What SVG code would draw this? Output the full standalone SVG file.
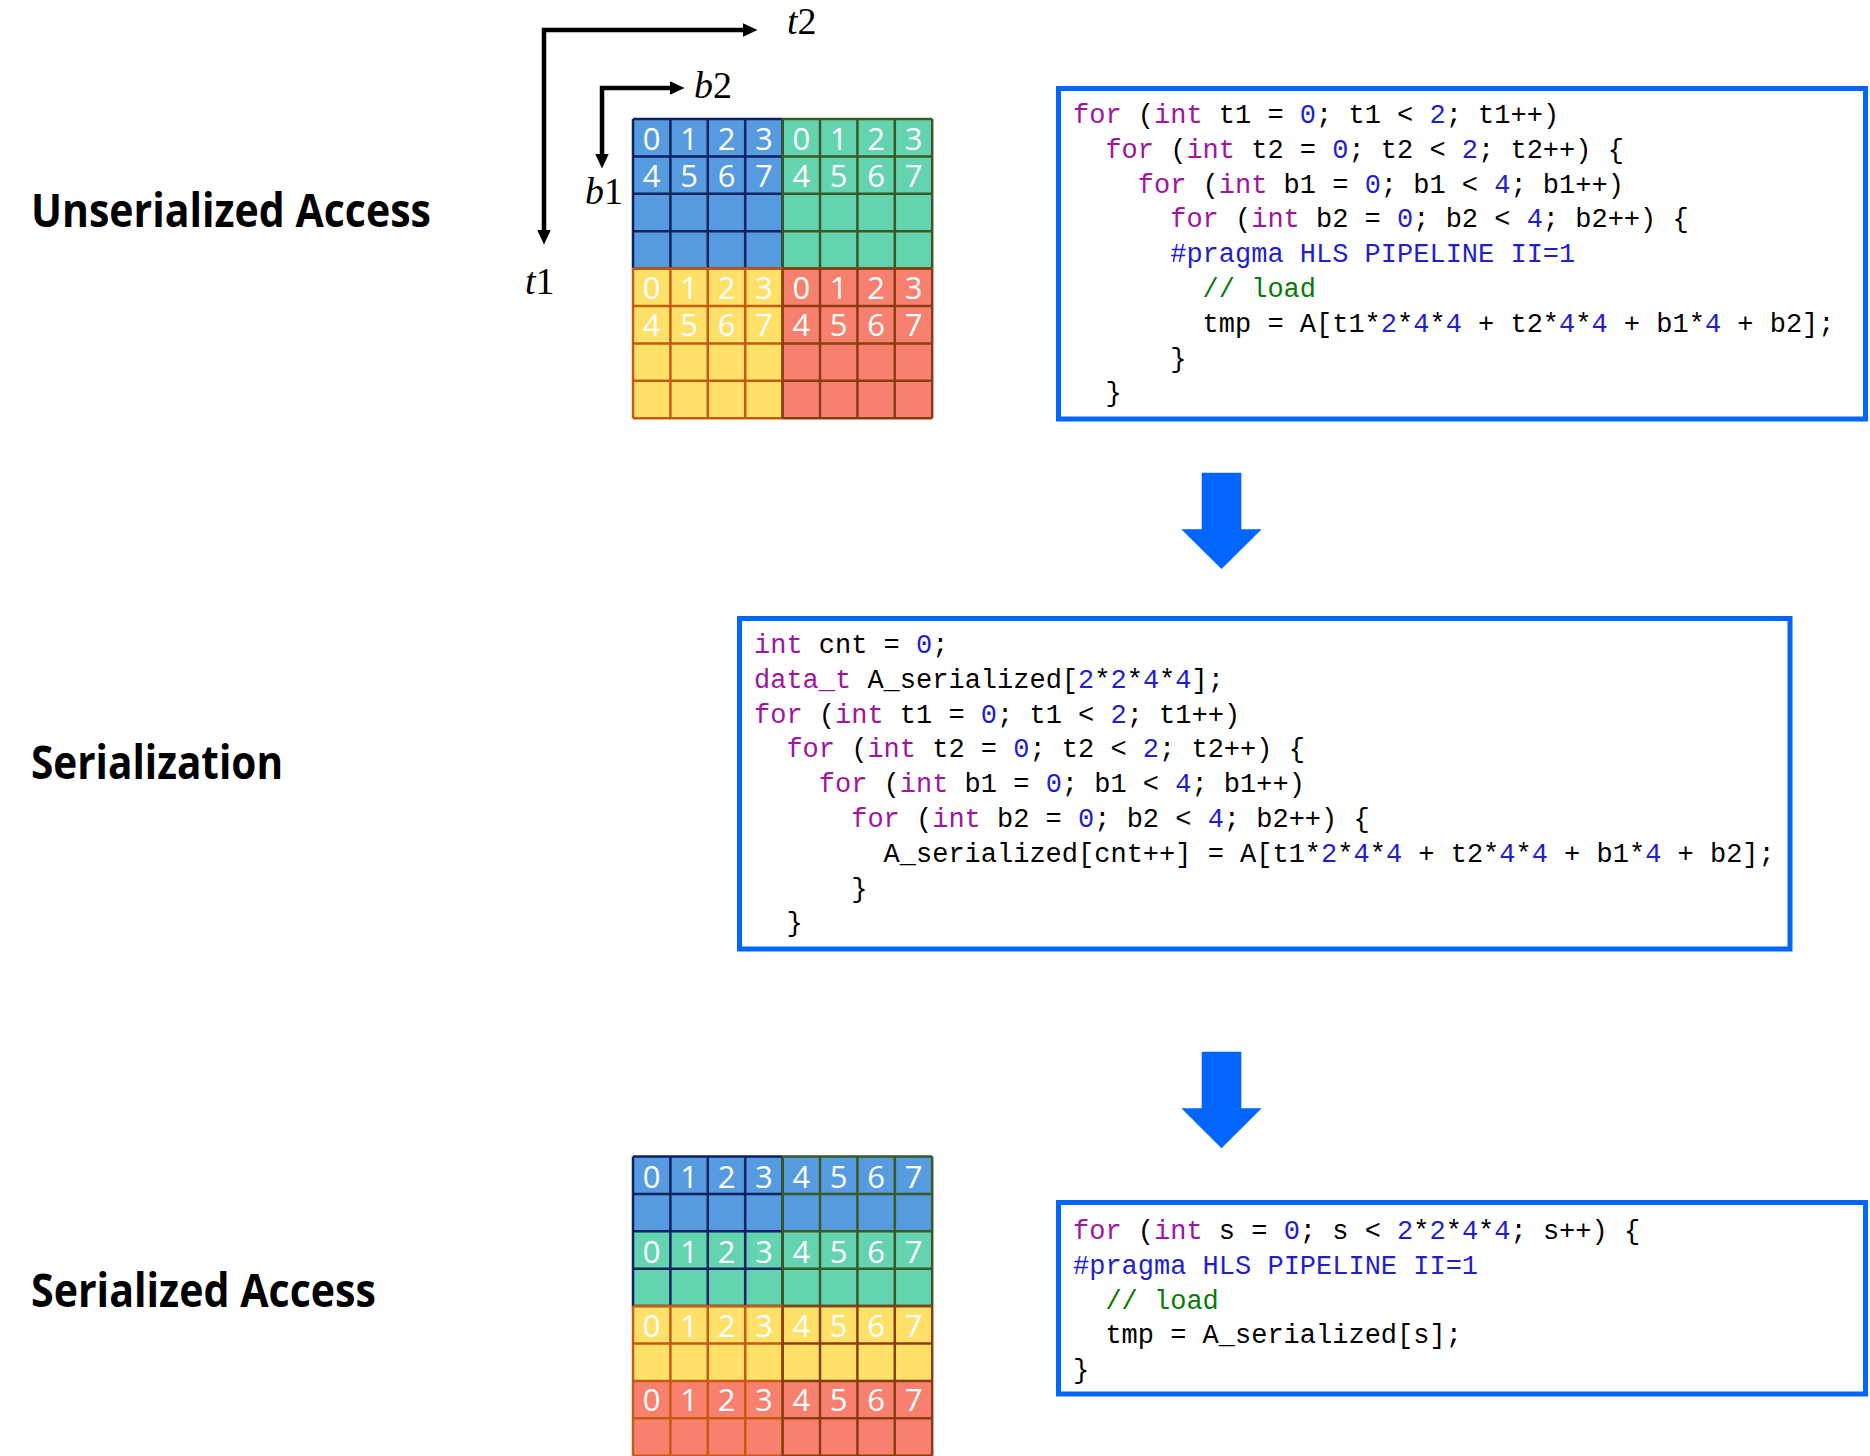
<svg xmlns="http://www.w3.org/2000/svg" xmlns:xlink="http://www.w3.org/1999/xlink" width="1870" height="1456" viewBox="0 0 1870 1456">
<style>
.lbl{font-family:"Open Sans","Liberation Sans",sans-serif;font-weight:700;font-size:46px;fill:#000}
.code{font-family:"Liberation Mono","DejaVu Sans Mono",monospace;font-size:27px;fill:#000;white-space:pre}
.kw{fill:#A0159F}
.n{fill:#1F1FCF}
.cm{fill:#0A7A0A}
.box{fill:none;stroke:#0066FF;stroke-width:5}
.d{font-family:"Open Sans","Liberation Sans",sans-serif;font-size:31px;fill:#fff;text-anchor:middle}
.ax{font-family:"Liberation Serif","DejaVu Serif",serif;font-size:38px;fill:#000}
.axl{fill:none;stroke:#000;stroke-width:4.5;stroke-linejoin:miter}
.bl{fill:#569AE0}.gr{fill:#63D3B0}.ye{fill:#FFE068}.rd{fill:#F8806E}
.gl{fill:none;stroke-width:2.5}
.big{fill:#0066FF}
</style>
<defs>
<marker id="ah" viewBox="0 0 15 14" refX="0.5" refY="7" markerWidth="15" markerHeight="14" markerUnits="userSpaceOnUse" orient="auto-start-reverse">
<path d="M0,0L15,7L0,14Z" fill="#000"/>
</marker>
<path id="q" d="M0,0V149.6M37.4,0V149.6M74.8,0V149.6M112.2,0V149.6M149.6,0V149.6M0,0H149.6M0,37.4H149.6M0,74.8H149.6M0,112.2H149.6M0,149.6H149.6"/>
</defs>
<rect width="1870" height="1456" fill="#fff"/>

<g id="label-unserialized"><text class="lbl" x="31" y="227" textLength="400" lengthAdjust="spacingAndGlyphs">Unserialized Access</text></g>
<g id="label-serialization"><text class="lbl" x="31" y="779" textLength="252" lengthAdjust="spacingAndGlyphs">Serialization</text></g>
<g id="label-serialized"><text class="lbl" x="31" y="1307" textLength="345" lengthAdjust="spacingAndGlyphs">Serialized Access</text></g>

<g id="axes">
<path class="axl" d="M544,230V30H743" marker-start="url(#ah)" marker-end="url(#ah)"/>
<path class="axl" d="M602,154V88H670" marker-start="url(#ah)" marker-end="url(#ah)"/>
<text class="ax" x="787" y="34"><tspan font-style="italic">t</tspan>2</text>
<text class="ax" x="694" y="98"><tspan font-style="italic">b</tspan>2</text>
<text class="ax" x="585" y="204"><tspan font-style="italic">b</tspan>1</text>
<text class="ax" x="525" y="294"><tspan font-style="italic">t</tspan>1</text>
</g>

<g id="grid-unserialized">
<rect class="bl" x="633" y="119" width="149.6" height="149.6"/>
<rect class="gr" x="782.6" y="119" width="149.6" height="149.6"/>
<rect class="ye" x="633" y="268.6" width="149.6" height="149.6"/>
<rect class="rd" x="782.6" y="268.6" width="149.6" height="149.6"/>
<use xlink:href="#q" class="gl" stroke="#0B2160" transform="translate(633,119)"/>
<use xlink:href="#q" class="gl" stroke="#3A5A24" transform="translate(782.6,119)"/>
<use xlink:href="#q" class="gl" stroke="#C55A11" transform="translate(633,268.6)"/>
<use xlink:href="#q" class="gl" stroke="#8A3E10" transform="translate(782.6,268.6)"/>
<text class="d" y="149.5"><tspan x="651.7">0</tspan><tspan x="689.1">1</tspan><tspan x="726.5">2</tspan><tspan x="763.9">3</tspan><tspan x="801.3">0</tspan><tspan x="838.7">1</tspan><tspan x="876.1">2</tspan><tspan x="913.5">3</tspan></text>
<text class="d" y="186.9"><tspan x="651.7">4</tspan><tspan x="689.1">5</tspan><tspan x="726.5">6</tspan><tspan x="763.9">7</tspan><tspan x="801.3">4</tspan><tspan x="838.7">5</tspan><tspan x="876.1">6</tspan><tspan x="913.5">7</tspan></text>
<text class="d" y="298.6"><tspan x="651.7">0</tspan><tspan x="689.1">1</tspan><tspan x="726.5">2</tspan><tspan x="763.9">3</tspan><tspan x="801.3">0</tspan><tspan x="838.7">1</tspan><tspan x="876.1">2</tspan><tspan x="913.5">3</tspan></text>
<text class="d" y="336"><tspan x="651.7">4</tspan><tspan x="689.1">5</tspan><tspan x="726.5">6</tspan><tspan x="763.9">7</tspan><tspan x="801.3">4</tspan><tspan x="838.7">5</tspan><tspan x="876.1">6</tspan><tspan x="913.5">7</tspan></text>
</g>

<g id="grid-serialized">
<rect class="bl" x="633" y="1156.5" width="299.2" height="74.8"/>
<rect class="gr" x="633" y="1231.3" width="299.2" height="74.8"/>
<rect class="ye" x="633" y="1306.1" width="299.2" height="74.8"/>
<rect class="rd" x="633" y="1380.9" width="299.2" height="74.8"/>
<use xlink:href="#q" class="gl" stroke="#0B2160" transform="translate(633,1156.5)"/>
<use xlink:href="#q" class="gl" stroke="#3A5A24" transform="translate(782.6,1156.5)"/>
<use xlink:href="#q" class="gl" stroke="#C55A11" transform="translate(633,1306.1)"/>
<use xlink:href="#q" class="gl" stroke="#8A3E10" transform="translate(782.6,1306.1)"/>
<text class="d" y="1188"><tspan x="651.7">0</tspan><tspan x="689.1">1</tspan><tspan x="726.5">2</tspan><tspan x="763.9">3</tspan><tspan x="801.3">4</tspan><tspan x="838.7">5</tspan><tspan x="876.1">6</tspan><tspan x="913.5">7</tspan></text>
<text class="d" y="1262.8"><tspan x="651.7">0</tspan><tspan x="689.1">1</tspan><tspan x="726.5">2</tspan><tspan x="763.9">3</tspan><tspan x="801.3">4</tspan><tspan x="838.7">5</tspan><tspan x="876.1">6</tspan><tspan x="913.5">7</tspan></text>
<text class="d" y="1337"><tspan x="651.7">0</tspan><tspan x="689.1">1</tspan><tspan x="726.5">2</tspan><tspan x="763.9">3</tspan><tspan x="801.3">4</tspan><tspan x="838.7">5</tspan><tspan x="876.1">6</tspan><tspan x="913.5">7</tspan></text>
<text class="d" y="1411.2"><tspan x="651.7">0</tspan><tspan x="689.1">1</tspan><tspan x="726.5">2</tspan><tspan x="763.9">3</tspan><tspan x="801.3">4</tspan><tspan x="838.7">5</tspan><tspan x="876.1">6</tspan><tspan x="913.5">7</tspan></text>
</g>

<g id="code-unserialized" xml:space="preserve">
<rect class="box" x="1058.5" y="88.5" width="807" height="330.5"/>
<text class="code" x="1073" y="123"><tspan class="kw">for</tspan> (<tspan class="kw">int</tspan> t1 = <tspan class="n">0</tspan>; t1 &lt; <tspan class="n">2</tspan>; t1++)</text>
<text class="code" x="1105.4" y="157.8"><tspan class="kw">for</tspan> (<tspan class="kw">int</tspan> t2 = <tspan class="n">0</tspan>; t2 &lt; <tspan class="n">2</tspan>; t2++) {</text>
<text class="code" x="1137.8" y="192.6"><tspan class="kw">for</tspan> (<tspan class="kw">int</tspan> b1 = <tspan class="n">0</tspan>; b1 &lt; <tspan class="n">4</tspan>; b1++)</text>
<text class="code" x="1170.2" y="227.4"><tspan class="kw">for</tspan> (<tspan class="kw">int</tspan> b2 = <tspan class="n">0</tspan>; b2 &lt; <tspan class="n">4</tspan>; b2++) {</text>
<text class="code n" x="1170.2" y="262.2">#pragma HLS PIPELINE II=1</text>
<text class="code cm" x="1202.6" y="297">// load</text>
<text class="code" x="1202.6" y="331.8">tmp = A[t1*<tspan class="n">2</tspan>*<tspan class="n">4</tspan>*<tspan class="n">4</tspan> + t2*<tspan class="n">4</tspan>*<tspan class="n">4</tspan> + b1*<tspan class="n">4</tspan> + b2];</text>
<text class="code" x="1170.2" y="366.6">}</text>
<text class="code" x="1105.4" y="401.4">}</text>
</g>

<g id="code-serialization" xml:space="preserve">
<rect class="box" x="739.5" y="618.5" width="1050.5" height="330.5"/>
<text class="code" x="754" y="653"><tspan class="kw">int</tspan> cnt = <tspan class="n">0</tspan>;</text>
<text class="code" x="754" y="687.8"><tspan class="kw">data_t</tspan> A_serialized[<tspan class="n">2</tspan>*<tspan class="n">2</tspan>*<tspan class="n">4</tspan>*<tspan class="n">4</tspan>];</text>
<text class="code" x="754" y="722.6"><tspan class="kw">for</tspan> (<tspan class="kw">int</tspan> t1 = <tspan class="n">0</tspan>; t1 &lt; <tspan class="n">2</tspan>; t1++)</text>
<text class="code" x="786.4" y="757.4"><tspan class="kw">for</tspan> (<tspan class="kw">int</tspan> t2 = <tspan class="n">0</tspan>; t2 &lt; <tspan class="n">2</tspan>; t2++) {</text>
<text class="code" x="818.8" y="792.2"><tspan class="kw">for</tspan> (<tspan class="kw">int</tspan> b1 = <tspan class="n">0</tspan>; b1 &lt; <tspan class="n">4</tspan>; b1++)</text>
<text class="code" x="851.2" y="827"><tspan class="kw">for</tspan> (<tspan class="kw">int</tspan> b2 = <tspan class="n">0</tspan>; b2 &lt; <tspan class="n">4</tspan>; b2++) {</text>
<text class="code" x="883.6" y="861.8">A_serialized[cnt++] = A[t1*<tspan class="n">2</tspan>*<tspan class="n">4</tspan>*<tspan class="n">4</tspan> + t2*<tspan class="n">4</tspan>*<tspan class="n">4</tspan> + b1*<tspan class="n">4</tspan> + b2];</text>
<text class="code" x="851.2" y="896.6">}</text>
<text class="code" x="786.4" y="931.4">}</text>
</g>

<g id="code-serialized" xml:space="preserve">
<rect class="box" x="1058.5" y="1202.5" width="807" height="191.5"/>
<text class="code" x="1073" y="1239"><tspan class="kw">for</tspan> (<tspan class="kw">int</tspan> s = <tspan class="n">0</tspan>; s &lt; <tspan class="n">2</tspan>*<tspan class="n">2</tspan>*<tspan class="n">4</tspan>*<tspan class="n">4</tspan>; s++) {</text>
<text class="code n" x="1073" y="1273.8">#pragma HLS PIPELINE II=1</text>
<text class="code cm" x="1105.4" y="1308.6">// load</text>
<text class="code" x="1105.4" y="1343.4">tmp = A_serialized[s];</text>
<text class="code" x="1073" y="1378.2">}</text>
</g>

<g id="connectors">
<path id="arrow-1" class="big" d="M1201.7,472.7H1241.3V529.3H1261.7L1221.5,569L1181.3,529.3H1201.7Z"/>
<path id="arrow-2" class="big" d="M1201.7,1051.7H1241.3V1108.3H1261.7L1221.5,1148.3L1181.3,1108.3H1201.7Z"/>
</g>
</svg>
